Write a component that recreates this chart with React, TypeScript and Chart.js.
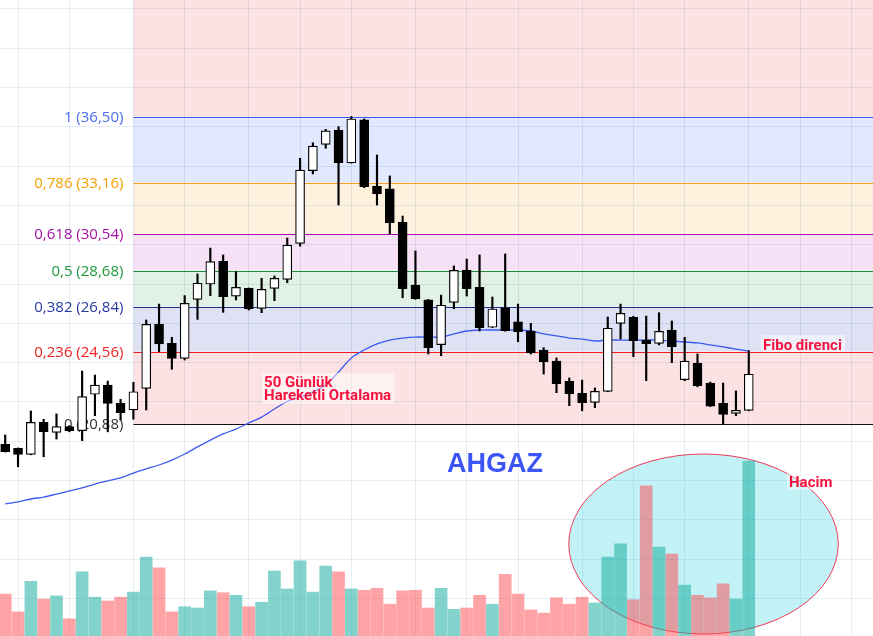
import React, { useEffect, useRef } from "react";
import { Chart, registerables } from "chart.js";
Chart.register(...registerables);

// ---- data ----
const opens = [19.84, 19.64, 19.33, 20.96, 20.45, 20.74, 20.54, 22.39, 22.86, 21.93, 21.59, 22.69, 25.95, 24.98, 24.22, 27.22, 28.0, 29.16, 27.38, 27.78, 26.76, 27.78, 28.24, 30.07, 33.77, 35.11, 35.84, 34.17, 36.35, 32.99, 32.84, 31.14, 27.95, 27.19, 24.91, 27.07, 28.71, 27.83, 25.8, 26.79, 26.07, 25.61, 24.64, 24.08, 23.06, 22.44, 21.98, 22.54, 26.0, 26.31, 25.15, 24.98, 25.66, 23.13, 23.97, 22.96, 21.93, 21.42, 21.57];
const highs = [20.32, 19.66, 21.54, 21.12, 21.39, 20.79, 23.57, 23.37, 23.06, 22.13, 23.0, 26.17, 26.98, 25.29, 27.41, 28.51, 29.83, 29.48, 28.63, 27.8, 28.29, 28.41, 30.34, 34.4, 35.19, 35.87, 36.01, 36.52, 36.4, 34.57, 33.5, 31.46, 29.68, 27.21, 27.44, 28.92, 29.27, 29.48, 27.34, 29.53, 26.98, 26.0, 24.76, 24.24, 23.22, 23.11, 22.71, 26.32, 26.98, 26.36, 26.37, 26.54, 26.12, 25.29, 24.44, 23.01, 22.96, 22.56, 24.61];
const lows = [19.45, 18.7, 19.31, 19.21, 20.11, 20.48, 20.03, 21.3, 20.48, 21.08, 21.12, 21.59, 24.56, 23.66, 24.13, 26.2, 27.41, 26.56, 27.19, 26.68, 26.54, 27.15, 28.07, 29.93, 33.6, 34.91, 32.02, 34.15, 32.9, 32.02, 30.55, 27.3, 27.22, 24.44, 24.35, 26.74, 27.39, 25.61, 25.78, 25.6, 25.06, 24.44, 23.42, 22.47, 21.81, 21.55, 21.71, 22.52, 25.2, 24.3, 23.08, 24.9, 24.0, 23.08, 22.77, 21.76, 20.86, 21.3, 21.55];
const closes = [19.47, 19.33, 20.96, 20.48, 20.74, 20.54, 22.27, 22.86, 21.93, 21.45, 22.52, 25.95, 24.95, 24.22, 27.02, 28.04, 29.14, 27.36, 27.83, 26.75, 27.73, 28.29, 29.98, 33.8, 35.02, 35.79, 34.17, 36.4, 32.95, 32.6, 31.12, 27.76, 27.25, 24.76, 26.92, 28.7, 27.76, 25.78, 26.73, 25.62, 25.57, 24.5, 24.05, 22.93, 22.42, 21.96, 22.54, 25.75, 26.51, 25.12, 24.96, 25.59, 24.81, 24.08, 22.83, 21.79, 21.37, 21.57, 23.41];
const volumes = [6.6, 3.8, 8.6, 5.8, 6.3, 2.7, 10.1, 6.1, 5.5, 6.1, 6.9, 12.4, 10.7, 3.8, 4.6, 4.4, 7.1, 6.8, 6.4, 4.6, 5.3, 10.2, 7.4, 11.8, 6.9, 11.0, 10.1, 7.4, 7.2, 7.5, 5.0, 7.1, 7.2, 4.4, 7.5, 4.2, 4.4, 6.4, 5.0, 9.7, 6.6, 4.1, 3.6, 6.0, 5.0, 6.1, 5.2, 12.4, 14.5, 5.7, 23.6, 14.0, 12.9, 8.0, 6.4, 6.0, 8.2, 5.8, 27.5];
const ma50 = [16.81, 16.91, 17.06, 17.16, 17.31, 17.47, 17.62, 17.82, 17.98, 18.13, 18.38, 18.59, 18.79, 19.04, 19.35, 19.71, 20.06, 20.37, 20.62, 20.93, 21.23, 21.64, 22.02, 22.25, 22.51, 22.86, 23.52, 24.24, 24.64, 24.95, 25.15, 25.25, 25.3, 25.3, 25.3, 25.46, 25.61, 25.66, 25.66, 25.66, 25.66, 25.61, 25.46, 25.36, 25.25, 25.2, 25.1, 25.15, 25.15, 25.15, 25.15, 25.15, 25.1, 25.05, 25.0, 24.9, 24.8, 24.69, 24.59];
const gridIdx = [1, 5, 10, 14, 19, 23, 27, 32, 36, 40, 45, 49, 53, 58, 62, 66];
const fibLevels = ["1", "0,786", "0,618", "0,5", "0,382", "0,236", "0"];
const fibPrices = [36.5, 33.16, 30.54, 28.68, 26.84, 24.56, 20.88];
const fibStartIdx = 10;
const ticker = "AHGAZ";
const maNote = ["50 Günlük", "Hareketli Ortalama"];
const fiboNote = "Fibo direnci";
const volNote = "Hacim";

// ---- styles ----
const fibLineColors = ["#3d5af1", "#f5a020", "#b000b8", "#1e8a3a", "#1f2f8f", "#f01e1e", "#111111"];
const fibLabelColors = ["#4a6cf0", "#f5a000", "#a410a4", "#1e9a3a", "#243a9e", "#f02020", "#333333"];
const fibBandColors = ["#fde2e4", "#e2e8fd", "#fef2de", "#f6e1f6", "#e2f1e5", "#dfe2f4", "#fde2e4"];
const upVol = "rgba(28,175,162,0.55)";
const downVol = "rgba(253,73,77,0.5)";
const noteRed = "#f5123e";

const idx = opens.map((_, i) => i);

const fibPlugin = {
  id: "fibPlugin",
  beforeDraw(chart: any) {
    const { ctx, chartArea, scales } = chart;
    const xs = scales.x, ys = scales.y;
    const x0 = xs.getPixelForValue(fibStartIdx);
    const x1 = chartArea.right;
    ctx.save();
    let prevY = chartArea.top;
    for (let i = 0; i < fibPrices.length; i++) {
      const y = ys.getPixelForValue(fibPrices[i]);
      ctx.fillStyle = fibBandColors[i];
      ctx.fillRect(x0, prevY, x1 - x0, y - prevY);
      prevY = y;
    }
    ctx.restore();
  },
  beforeDatasetsDraw(chart: any) {
    const { ctx, chartArea, scales } = chart;
    const xs = scales.x, ys = scales.y;
    const x0 = xs.getPixelForValue(fibStartIdx);
    ctx.save();
    // ellipse
    const cx = xs.getPixelForValue(54.47);
    const cy = ys.getPixelForValue(14.77);
    const rx = xs.getPixelForValue(54.47 + 10.51) - cx;
    const ry = ys.getPixelForValue(14.77) - ys.getPixelForValue(14.77 + 4.58);
    ctx.beginPath();
    ctx.ellipse(cx, cy, rx, ry, 0, 0, Math.PI * 2);
    ctx.fillStyle = "rgba(15,203,219,0.25)";
    ctx.fill();
    ctx.lineWidth = 1;
    ctx.strokeStyle = "rgba(240,40,70,0.9)";
    ctx.stroke();
    // fib lines and labels
    ctx.font = "15px 'Open Sans'";
    ctx.textAlign = "right";
    ctx.textBaseline = "middle";
    for (let i = 0; i < fibPrices.length; i++) {
      const y = Math.round(ys.getPixelForValue(fibPrices[i])) + 0.5;
      ctx.beginPath();
      ctx.moveTo(x0, y);
      ctx.lineTo(chartArea.right, y);
      ctx.strokeStyle = fibLineColors[i];
      ctx.lineWidth = 1.2;
      ctx.stroke();
      ctx.fillStyle = fibLabelColors[i];
      const label = `${fibLevels[i]} (${fibPrices[i].toFixed(2).replace(".", ",")})`;
      ctx.fillText(label, x0 - 10, y);
    }
    ctx.restore();
  },
  afterDraw(chart: any) {
    const { ctx, scales } = chart;
    const xs = scales.x, ys = scales.y;
    ctx.save();
    ctx.textAlign = "left";
    ctx.textBaseline = "alphabetic";
    // MA note
    ctx.font = "bold 15px Roboto";
    let lx = xs.getPixelForValue(20.19);
    let by = ys.getPixelForValue(22.77);
    const w = Math.max(...maNote.map((t) => ctx.measureText(t).width));
    ctx.fillStyle = "rgba(255,255,255,0.5)";
    ctx.fillRect(lx - 2, by - 14, w + 5, 31);
    ctx.fillStyle = noteRed;
    maNote.forEach((t, k) => ctx.fillText(t, lx, by + k * 13.5));
    // Fibo note
    ctx.font = "bold 15px Roboto";
    lx = xs.getPixelForValue(59.11);
    by = ys.getPixelForValue(24.64);
    let tw = ctx.measureText(fiboNote).width;
    ctx.fillStyle = "rgba(255,255,255,0.5)";
    ctx.fillRect(lx - 2, by - 15, tw + 5, 17);
    ctx.fillStyle = noteRed;
    ctx.fillText(fiboNote, lx, by);
    // Volume note
    lx = xs.getPixelForValue(61.14);
    by = ys.getPixelForValue(17.67);
    tw = ctx.measureText(volNote).width;
    ctx.fillStyle = "rgba(255,255,255,0.4)";
    ctx.fillRect(lx - 2, by - 15, tw + 5, 18);
    ctx.fillStyle = noteRed;
    ctx.fillText(volNote, lx, by);
    // ticker
    ctx.font = "bold 27px 'Liberation Sans'";
    ctx.fillStyle = "#3d55f5";
    ctx.fillText(ticker, xs.getPixelForValue(34.46), ys.getPixelForValue(18.44));
    ctx.restore();
  },
};

export default function App() {
  const ref = useRef<HTMLCanvasElement | null>(null);
  useEffect(() => {
    document.body.style.margin = "0";
    const canvas = ref.current!;
    const up = idx.map((i) => closes[i] >= opens[i]);
    const chart = new Chart(canvas, {
      type: "bar",
      data: {
        datasets: [
          {
            type: "bar",
            label: "Volume",
            data: idx.map((i) => ({ x: i, y: volumes[i] })) as any,
            yAxisID: "v",
            backgroundColor: idx.map((i) => (up[i] ? upVol : downVol)),
            borderWidth: 0,
            barThickness: 12,
            grouped: false,
            order: 5,
          },
          {
            type: "line",
            label: "MA50",
            data: idx.map((i) => ({ x: i, y: ma50[i] })) as any,
            yAxisID: "y",
            borderColor: "#3d5af1",
            borderWidth: 1.3,
            pointRadius: 0,
            tension: 0.3,
            fill: false,
            order: 4,
          },
          {
            type: "bar",
            label: "Wicks",
            data: idx.map((i) => ({ x: i, y: [lows[i], highs[i]] })) as any,
            yAxisID: "y",
            backgroundColor: "#000",
            borderWidth: 0,
            barThickness: 1.5,
            grouped: false,
            order: 3,
          },
          {
            type: "bar",
            label: "Bodies",
            data: idx.map((i) => ({ x: i, y: [Math.min(opens[i], closes[i]), Math.max(opens[i], closes[i])] })) as any,
            yAxisID: "y",
            backgroundColor: idx.map((i) => (up[i] ? "#ffffff" : "#000000")),
            borderColor: "#000",
            borderWidth: 1.2,
            borderSkipped: false,
            barThickness: 9,
            grouped: false,
            order: 1,
          },
        ],
      },
      options: {
        animation: false,
        responsive: false,
        devicePixelRatio: 1,
        layout: { padding: 0 },
        plugins: { legend: { display: false }, tooltip: { enabled: false } },
        scales: {
          x: {
            type: "linear",
            min: -0.406,
            max: 67.69,
            offset: false,
            afterBuildTicks: (axis: any) => {
              axis.ticks = gridIdx.map((v) => ({ value: v }));
            },
            ticks: { display: false },
            grid: { offset: false, drawTicks: false, color: "rgba(42,110,170,0.12)", lineWidth: 1 },
            border: { display: false },
          },
          y: {
            type: "linear",
            position: "left",
            min: 10.088,
            max: 42.454,
            ticks: { display: false, stepSize: 2, includeBounds: false },
            grid: { drawTicks: false, color: "rgba(42,110,170,0.12)", lineWidth: 1 },
            border: { display: false },
          },
          v: { type: "linear", display: false, min: 0, max: 100 },
        },
      } as any,
      plugins: [fibPlugin],
    });
    return () => chart.destroy();
  }, []);
  return (
    <div style={{ position: "fixed", left: 0, top: 0, width: 873, height: 636 }}>
      <canvas ref={ref} width={873} height={636} />
    </div>
  );
}
